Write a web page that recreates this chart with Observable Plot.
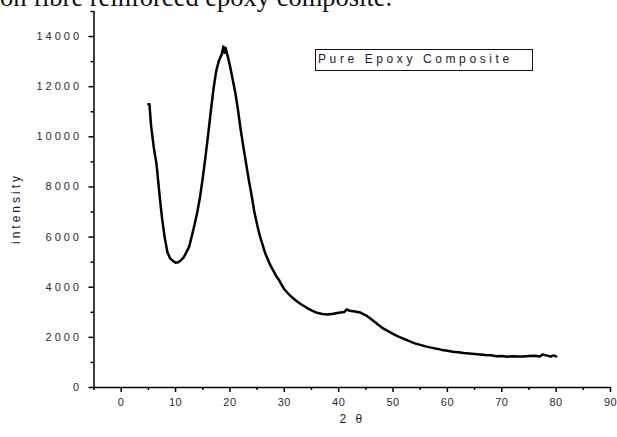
<!DOCTYPE html>
<html>
<head>
<meta charset="utf-8">
<script src="https://cdn.jsdelivr.net/npm/d3@7"></script>
<script src="https://cdn.jsdelivr.net/npm/@observablehq/plot@0.6"></script>
<style>
  body { margin: 0; background: #fff; }
  #wrap { position: relative; width: 617px; height: 437px; overflow: hidden; background: #fff; }
  #wrap svg text { letter-spacing: 3px; }
  #cut { position: absolute; left: 0; top: -16px; font-family: "Liberation Serif", "Times New Roman", serif; font-size: 26.5px; line-height: 26.5px; white-space: nowrap; color: #111; }
  #legend { position: absolute; left: 315px; top: 49px; box-sizing: border-box; width: 218px; height: 22px; border: 1.5px solid #111; font-family: "Liberation Sans", Arial, sans-serif; font-size: 12px; line-height: 19px; letter-spacing: 3.6px; padding-left: 2px; color: #1a1a2e; white-space: nowrap; }
</style>
</head>
<body>
<div id="wrap"></div>
<script>
// 2θ (degrees)
const twoTheta = [5.0, 5.2, 5.5, 6.0, 6.5, 7.1, 7.5, 8.0, 8.5, 9.0, 9.5, 10.0, 10.5, 11.0, 11.5, 12.0, 12.5, 13.0, 13.5, 14.0, 14.5, 15.0, 15.5, 16.0, 16.5, 17.0, 17.5, 18.0, 18.5, 18.8, 19.0, 19.2, 19.5, 20.0, 20.5, 21.0, 21.5, 22.0, 22.5, 23.0, 23.5, 24.0, 24.5, 25.0, 25.5, 26.0, 26.5, 27.0, 27.5, 28.0, 28.5, 29.0, 29.5, 30, 31, 32, 33, 34, 35, 36, 37, 38, 39, 40, 41, 41.5, 42, 43, 44, 45, 46, 47, 48, 49, 50, 51, 52, 53, 54, 55, 56, 57, 58, 59, 60, 61, 62, 63, 64, 65, 66, 67, 68, 69, 70, 71, 72, 73, 74, 75, 76, 77, 77.5, 78, 78.5, 79, 79.5, 80];
// intensity
const intensity = [11300, 11300, 10440, 9570, 8910, 7580, 6780, 5990, 5400, 5150, 5050, 4980, 5000, 5080, 5190, 5400, 5620, 6050, 6500, 7000, 7600, 8350, 9200, 10100, 11050, 11950, 12650, 13050, 13300, 13600, 13350, 13550, 13300, 12850, 12300, 11750, 11050, 10250, 9570, 8900, 8250, 7650, 7000, 6500, 6050, 5700, 5350, 5100, 4850, 4650, 4450, 4300, 4100, 3920, 3680, 3490, 3330, 3200, 3080, 2980, 2930, 2910, 2940, 2980, 3010, 3120, 3060, 3030, 2990, 2880, 2720, 2550, 2380, 2260, 2140, 2030, 1940, 1850, 1760, 1700, 1640, 1590, 1550, 1500, 1470, 1430, 1410, 1380, 1360, 1340, 1320, 1300, 1290, 1250, 1260, 1230, 1250, 1240, 1240, 1260, 1270, 1240, 1320, 1290, 1260, 1230, 1280, 1240];

const xMajor = [0, 10, 20, 30, 40, 50, 60, 70, 80, 90];
const xMinor = [-5, 5, 15, 25, 35, 45, 55, 65, 75, 85];
const yMajor = [0, 2000, 4000, 6000, 8000, 10000, 12000, 14000];
const yMinor = [1000, 3000, 5000, 7000, 9000, 11000, 13000, 15000];

const xLabel = "2 θ";
const yLabel = "intensity";
const legendText = "Pure Epoxy Composite";
const cutText = "on fibre reinforced epoxy composite.";

const data = twoTheta.map((x, i) => ({x, y: intensity[i]}));

const chart = Plot.plot({
  width: 617,
  height: 437,
  marginLeft: 93.5,
  marginRight: 7,
  marginTop: 11,
  marginBottom: 50,
  x: {domain: [-5, 90]},
  y: {domain: [0, 15000]},
  style: {fontFamily: "'Liberation Sans', Arial, sans-serif", fontSize: "11px", color: "#2a2a3a", background: "transparent"},
  marks: [
    Plot.axisX({ticks: xMajor, tickSize: 5, tickPadding: 6, strokeWidth: 1.5, stroke: "#000", tickFormat: d => String(d), label: null}),
    Plot.axisX({ticks: xMinor, tickSize: 3, strokeWidth: 1.5, stroke: "#000", tickFormat: () => "", label: null}),
    Plot.axisY({ticks: yMajor, tickSize: 5, tickPadding: 7, strokeWidth: 1.5, stroke: "#000", tickFormat: d => String(d), label: null}),
    Plot.axisY({ticks: yMinor, tickSize: 3, strokeWidth: 1.5, stroke: "#000", tickFormat: () => "", label: null}),
    Plot.text([xLabel], {frameAnchor: "bottom", lineAnchor: "middle", dy: 32, fontSize: 12, fill: "#1a1a2e"}),
    Plot.text([yLabel], {frameAnchor: "left", textAnchor: "middle", lineAnchor: "middle", rotate: -90, dx: -78, dy: 9, fontSize: 12, fill: "#1a1a2e"}),
    Plot.ruleY([0], {stroke: "#000", strokeWidth: 1.5}),
    Plot.ruleX([-5], {stroke: "#000", strokeWidth: 1.5}),
    Plot.line(data, {x: "x", y: "y", stroke: "#000", strokeWidth: 2.5})
  ]
});

d3.select(chart).selectAll('g[aria-label="x-axis tick label"] text').style("letter-spacing", "0.5px");

const wrap = document.getElementById("wrap");
wrap.appendChild(chart);
const cut = document.createElement("div");
cut.id = "cut";
cut.textContent = cutText;
wrap.appendChild(cut);
const legend = document.createElement("div");
legend.id = "legend";
legend.textContent = legendText;
wrap.appendChild(legend);
</script>
</body>
</html>
